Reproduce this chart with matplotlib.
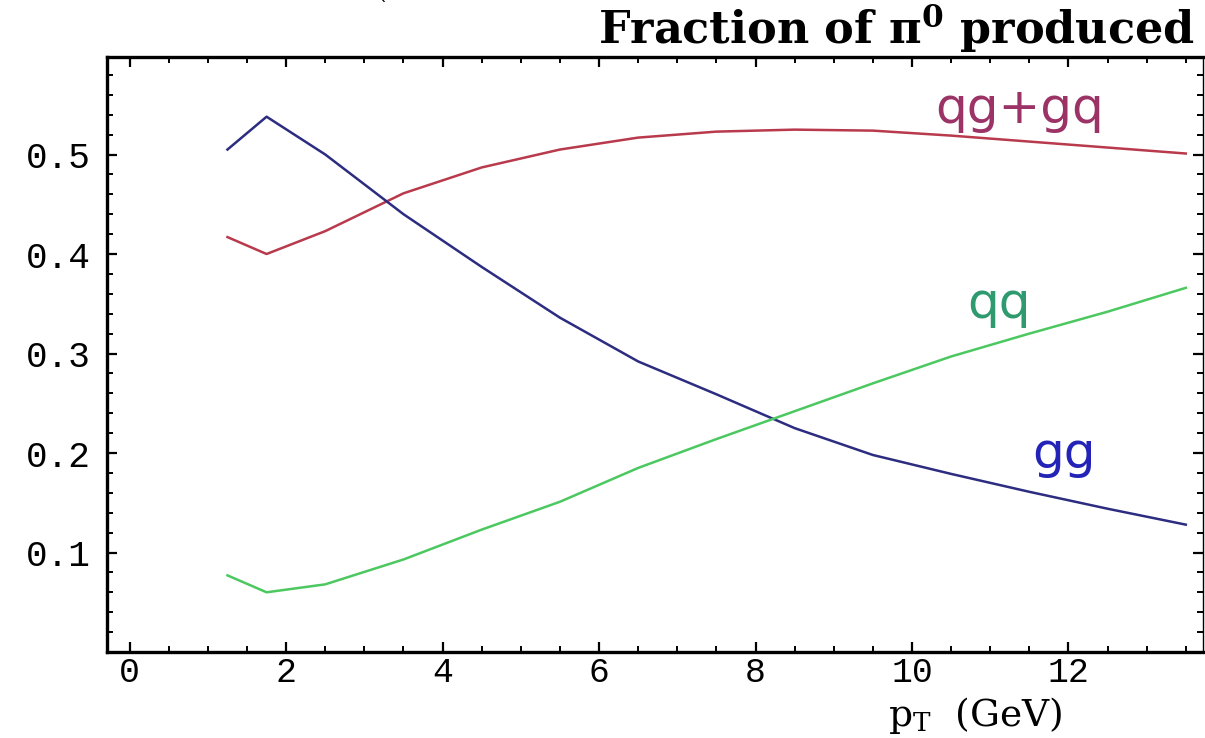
import numpy as np
import matplotlib.pyplot as plt
from matplotlib.ticker import MultipleLocator, FormatStrFormatter

# transverse momentum grid (GeV)
pt = [1.25, 1.75, 2.5, 3.5, 4.5, 5.5, 6.5, 7.5, 8.5, 9.5, 10.5, 11.5, 12.5, 13.5]

# fraction of pi0 coming from each partonic subprocess
frac_qg = [0.417, 0.400, 0.423, 0.461, 0.487, 0.505, 0.517, 0.523, 0.525,
           0.524, 0.519, 0.513, 0.507, 0.501]
frac_gg = [0.505, 0.538, 0.500, 0.440, 0.387, 0.336, 0.292, 0.259, 0.225,
           0.198, 0.179, 0.161, 0.144, 0.128]
frac_qq = [0.077, 0.060, 0.068, 0.093, 0.123, 0.151, 0.185, 0.214, 0.242,
           0.270, 0.297, 0.320, 0.342, 0.366]

labels = ['qg+gq', 'qq', 'gg']
label_x = [11.37, 11.11, 11.94]
label_y = [0.532, 0.336, 0.185]
label_col = ['#9c3366', '#2e9a6e', '#2323b8']

plt.rcParams['mathtext.fontset'] = 'dejavuserif'

fig = plt.figure(figsize=(12.05, 7.38), dpi=100)
ax = fig.add_axes([107 / 1205, 86 / 738, 1096 / 1205, 595 / 738])

ax.plot(pt, frac_qg, color='#b83a4c', lw=1.8)
ax.plot(pt, frac_gg, color='#2c2c80', lw=1.8)
ax.plot(pt, frac_qq, color='#4cc860', lw=1.8)

for txt, x, y, c in zip(labels, label_x, label_y, label_col):
    ax.text(x, y, txt, color=c, fontsize=36, family='DejaVu Sans',
            ha='center', va='baseline')

ax.set_xlim(-0.29, 13.72)
ax.set_ylim(0, 0.598)

ax.xaxis.set_major_locator(MultipleLocator(2))
ax.xaxis.set_minor_locator(MultipleLocator(0.5))
ax.yaxis.set_major_locator(MultipleLocator(0.1))
ax.yaxis.set_minor_locator(MultipleLocator(0.02))
ax.yaxis.set_major_formatter(FormatStrFormatter('%.1f'))
ax.set_yticks([0.1, 0.2, 0.3, 0.4, 0.5])

ax.tick_params(which='both', direction='in', top=True, right=True,
               color='black')
ax.tick_params(which='major', length=7, width=1.6)
ax.tick_params(which='minor', length=4, width=1.4)
ax.tick_params(axis='x', which='major', pad=3)
ax.tick_params(axis='y', which='major', pad=12)
for lab in ax.get_yticklabels():
    lab.set_family('Liberation Mono')
    lab.set_fontsize(26)
for lab in ax.get_xticklabels():
    lab.set_family('Liberation Mono')
    lab.set_fontsize(25)

for side in ['left', 'bottom', 'top']:
    ax.spines[side].set_linewidth(2.4)
ax.spines['right'].set_linewidth(1.0)

fig.text(1195 / 1205, 1 - 44 / 738, r'Fraction of $\mathbf{\pi^0}$ produced',
         family='DejaVu Serif', weight='bold', fontsize=32,
         ha='right', va='baseline')
fig.text(975 / 1205, 1 - 736 / 738, r'$\mathrm{p_T}$  (GeV)',
         family='DejaVu Serif', fontsize=27, ha='center', va='bottom')
fig.text(383 / 1205, 1 - 14 / 738, '`', family='DejaVu Sans', fontsize=14,
         ha='center')

fig.savefig('out.png', dpi=100)
